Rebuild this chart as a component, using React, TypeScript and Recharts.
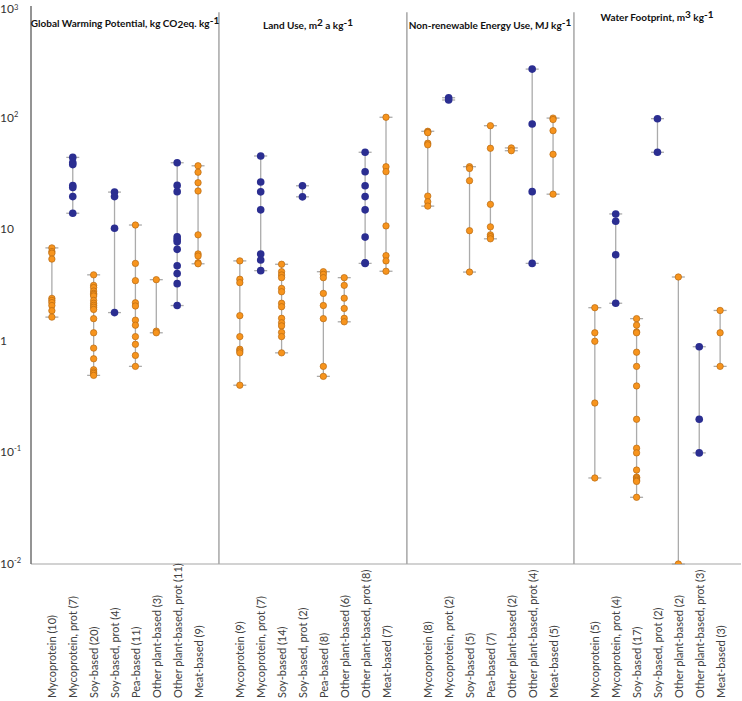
import React from "react";
import { ErrorBar, ReferenceLine, Scatter, ScatterChart, XAxis, YAxis } from "recharts";

const Y_TICKS = [0.01, 0.1, 1, 10, 100, 1000];

const GWP_LABELS = [
  "Mycoprotein (10)",
  "Mycoprotein, prot (7)",
  "Soy-based (20)",
  "Soy-based, prot (4)",
  "Pea-based (11)",
  "Other plant-based (3)",
  "Other plant-based, prot (11)",
  "Meat-based (9)",
];
const GWP_VALUES: number[][] = [
  [6.8, 6.3, 6.1, 5.4, 2.4, 2.3, 2.2, 2.07, 1.86, 1.63],
  [44, 39.5, 37.9, 24.6, 23.7, 19.6, 13.9],
  [3.9, 3.14, 3.0, 2.79, 2.66, 2.6, 2.52, 2.3, 2.17, 2.08, 2.0, 1.91, 1.58, 1.18, 0.86, 0.69, 0.55, 0.525, 0.51, 0.49],
  [21.5, 19.6, 10.2, 1.79],
  [10.9, 4.94, 3.46, 2.19, 2.05, 1.53, 1.38, 1.09, 0.93, 0.74, 0.59],
  [3.53, 1.22, 1.18],
  [39.4, 24.7, 21.7, 8.57, 8.1, 7.7, 6.6, 4.7, 4.0, 3.25, 2.07],
  [37, 32.4, 26.1, 22, 8.9, 6.0, 5.75, 5.0, 4.9],
];

const LAND_LABELS = [
  "Mycoprotein (9)",
  "Mycoprotein, prot (7)",
  "Soy-based (14)",
  "Soy-based, prot (2)",
  "Pea-based (8)",
  "Other plant-based (6)",
  "Other plant-based, prot (8)",
  "Meat-based (7)",
];
const LAND_VALUES: number[][] = [
  [5.2, 3.56, 3.32, 1.68, 1.09, 0.84, 0.81, 0.78, 0.4],
  [45.3, 26.5, 21.6, 14.9, 6.0, 5.3, 4.25],
  [4.85, 4.16, 3.89, 3.68, 2.95, 2.75, 2.17, 2.02, 1.59, 1.45, 1.36, 1.19, 1.09, 0.78],
  [24.5, 19.5],
  [4.16, 3.94, 3.68, 2.66, 2.07, 1.58, 0.59, 0.48],
  [3.68, 3.14, 2.41, 1.95, 1.59, 1.48],
  [48.9, 32.7, 24.5, 19.6, 14.9, 8.5, 5.0, 4.94],
  [100.7, 36.3, 32.8, 10.7, 5.8, 5.2, 4.2],
];

const ENERGY_LABELS = [
  "Mycoprotein (8)",
  "Mycoprotein, prot (2)",
  "Soy-based (5)",
  "Pea-based (7)",
  "Other plant-based (2)",
  "Other plant-based, prot (4)",
  "Meat-based (5)",
];
const ENERGY_VALUES: number[][] = [
  [75.4, 74, 73.3, 58.9, 57, 19.8, 17.6, 16.1],
  [150.7, 143.8],
  [36.3, 35, 27.2, 9.7, 4.13],
  [84.6, 53.1, 16.7, 10.5, 8.9, 8.57, 8.2],
  [53.5, 50.5],
  [272, 87.7, 21.7, 4.94],
  [99, 96, 76.4, 46.9, 20.6],
];

const WATER_LABELS = [
  "Mycoprotein (5)",
  "Mycoprotein, prot (4)",
  "Soy-based (17)",
  "Soy-based, prot (2)",
  "Other plant-based (2)",
  "Other plant-based, prot (3)",
  "Meat-based (3)",
];
const WATER_VALUES: number[][] = [
  [1.98, 1.18, 0.99, 0.277, 0.059],
  [13.7, 11.8, 5.9, 2.17],
  [1.58, 1.38, 1.2, 1.18, 0.79, 0.59, 0.394, 0.198, 0.109, 0.099, 0.0695, 0.06, 0.0593, 0.0578, 0.0562, 0.055, 0.0396],
  [97.8, 48.9],
  [3.73, 0.01],
  [0.885, 0.198, 0.099],
  [1.87, 1.18, 0.59],
];

const PANELS = [
  { labels: GWP_LABELS, values: GWP_VALUES },
  { labels: LAND_LABELS, values: LAND_VALUES },
  { labels: ENERGY_LABELS, values: ENERGY_VALUES },
  { labels: WATER_LABELS, values: WATER_VALUES },
];

// lay categories out on a numeric x axis, with one empty slot between panels
const orangePts: { x: number; y: number }[] = [];
const bluePts: { x: number; y: number }[] = [];
const ranges: { x: number; y: number; err: [number, number] }[] = [];
const tickLabel: Record<number, string> = {};
const separators: number[] = [];
let pos = 1;
PANELS.forEach((p, pi) => {
  p.labels.forEach((label, i) => {
    const vals = p.values[i];
    const lo = Math.min(...vals);
    const hi = Math.max(...vals);
    ranges.push({ x: pos, y: lo, err: [0, hi - lo] });
    const target = label.includes(", prot") ? bluePts : orangePts;
    vals.forEach((v) => target.push({ x: pos, y: v }));
    tickLabel[pos] = label;
    pos++;
  });
  if (pi < PANELS.length - 1) {
    separators.push(pos);
    pos++;
  }
});
const X_MAX = pos;
const X_TICKS = Object.keys(tickLabel).map(Number);

const SUP: Record<number, string> = { 0.01: "-2", 0.1: "-1", 100: "2", 1000: "3" };

function YTick(props: any) {
  const { y, payload } = props;
  const v = payload.value as number;
  const sup = SUP[v];
  // the top label would stick out of the picture, so it sits a little lower
  const dy = v === 1000 ? 7 : 4;
  return (
    <text x={0} y={y} dy={dy} fontSize={12} fill="#333" textAnchor="start">
      {v === 1 ? "1" : "10"}
      {sup && (
        <tspan dy={v === 1000 ? -3.5 : -5} fontSize={7.5}>
          {sup}
        </tspan>
      )}
    </text>
  );
}

function XTick(props: any) {
  const { x, payload } = props;
  const yb = 698;
  return (
    <text
      x={x}
      y={yb}
      transform={`rotate(-90 ${x} ${yb})`}
      fontSize={11}
      fill="#404040"
      textAnchor="start"
      dominantBaseline="central"
    >
      {tickLabel[payload.value]}
    </text>
  );
}

const Orange = (p: any) => (
  <circle cx={p.cx} cy={p.cy} r={3.2} fill="#f7941d" stroke="#b86a12" strokeWidth={0.7} />
);
const Blue = (p: any) => <circle cx={p.cx} cy={p.cy} r={3.8} fill="#2b2e91" />;
const Hidden = () => <g />;

const up = { position: "relative" as const, top: -3 };
const down = { position: "relative" as const, top: 1 };

const TITLES = [
  { cx: 125, cy: 23, node: <>Global Warming Potential, kg CO<span style={down}>2</span>eq. kg<span style={up}>-1</span></> },
  { cx: 308, cy: 25, node: <>Land Use, m<span style={up}>2</span> a kg<span style={up}>-1</span></> },
  { cx: 490, cy: 25, node: <>Non-renewable Energy Use, MJ kg<span style={up}>-1</span></> },
  { cx: 657, cy: 17, node: <>Water Footprint, m<span style={up}>3</span> kg<span style={up}>-1</span></> },
];

export default function App() {
  return (
    <div
      style={{
        position: "absolute",
        left: 0,
        top: 0,
        width: 742,
        height: 701,
        background: "#fff",
        fontFamily: "Lato, 'Liberation Sans', sans-serif",
      }}
    >
      <ScatterChart width={742} height={701} margin={{ top: 6, right: 1, bottom: 0, left: 0 }}>
        <XAxis
          type="number"
          dataKey="x"
          domain={[0, X_MAX]}
          ticks={X_TICKS}
          interval={0}
          tick={<XTick />}
          tickLine={false}
          axisLine={{ stroke: "#a6a6a6", strokeWidth: 1.2 }}
          height={137}
        />
        <YAxis
          type="number"
          dataKey="y"
          scale="log"
          domain={[0.01, 1000]}
          allowDataOverflow
          ticks={Y_TICKS}
          interval={0}
          tick={<YTick />}
          tickLine={false}
          axisLine={{ stroke: "#707070", strokeWidth: 1.5 }}
          width={31}
        />
        {separators.map((s) => (
          <ReferenceLine
            key={s}
            segment={[
              { x: s, y: 880 },
              { x: s, y: 0.01 },
            ]}
            stroke="#a6a6a6"
            strokeWidth={1.5}
          />
        ))}
        <Scatter data={ranges} shape={<Hidden />} isAnimationActive={false}>
          <ErrorBar dataKey="err" direction="y" width={6.5} stroke="#ababab" strokeWidth={1.3} />
        </Scatter>
        <Scatter data={orangePts} shape={<Orange />} isAnimationActive={false} />
        <Scatter data={bluePts} shape={<Blue />} isAnimationActive={false} />
      </ScatterChart>
      {TITLES.map((t, i) => (
        <div
          key={i}
          style={{
            position: "absolute",
            left: t.cx - 110,
            width: 220,
            top: t.cy - 7,
            height: 14,
            lineHeight: "14px",
            textAlign: "center",
            fontWeight: 700,
            fontSize: 10,
            color: "#111",
            whiteSpace: "nowrap",
          }}
        >
          {t.node}
        </div>
      ))}
    </div>
  );
}
